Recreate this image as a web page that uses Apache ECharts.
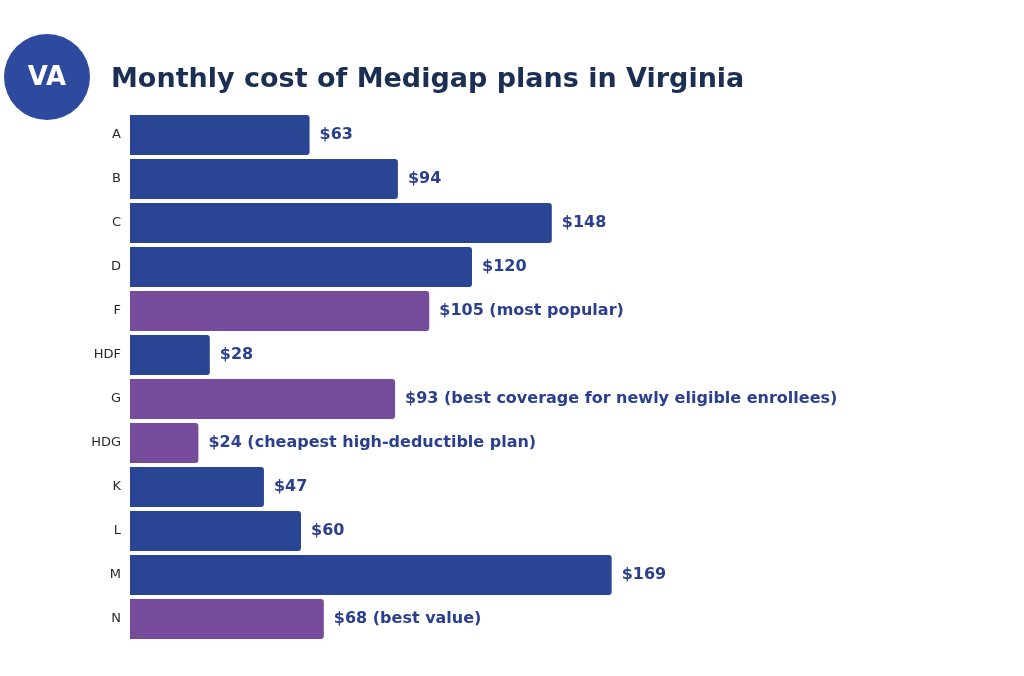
<!DOCTYPE html>
<html><head><meta charset="utf-8">
<script src="https://cdn.jsdelivr.net/npm/echarts@6/dist/echarts.min.js"></script>
<style>html,body{margin:0;padding:0;background:#fff}#c{width:1024px;height:676px}</style>
</head><body><div id="c"></div>
<script>
const categories = ['A','B','C','D','F','HDF','G','HDG','K','L','M','N'];
const costs = [63,94,148,120,105,28,93,24,47,60,169,68];
const notes = ['','','','','most popular','','best coverage for newly eligible enrollees','cheapest high-deductible plan','','','','best value'];
const highlighted = [false,false,false,false,true,false,true,true,false,false,false,true];
const BLUE = '#2B4595', PURPLE = '#764B9C';
const chart = echarts.init(document.getElementById('c'));
chart.setOption({
  backgroundColor:'#fff',
  animation:false,
  title:{text:'Monthly cost of Medigap plans in Virginia',left:106,top:61,
    textStyle:{fontFamily:'DejaVu Sans',fontWeight:700,fontSize:27,color:'#1B2F55'}},
  graphic:[
    {type:'circle',shape:{cx:47,cy:77,r:43},style:{fill:'#2D4A9E'}},
    {type:'text',x:47,y:78,style:{text:'VA',fill:'#fff',font:'700 26px "DejaVu Sans"',align:'center',verticalAlign:'middle'}}
  ],
  grid:{left:130,right:39,top:113,bottom:35},
  xAxis:{type:'value',min:0,max:300,show:false},
  yAxis:{type:'category',data:categories,inverse:true,
    axisLine:{show:false},axisTick:{show:false},
    axisLabel:{margin:9,fontFamily:'DejaVu Sans',fontSize:13,color:'#2a2a2a'}},
  series:[{type:'bar',barCategoryGap:'9%',
    data:costs.map((v,i)=>({value:v,itemStyle:{color:highlighted[i]?PURPLE:BLUE}})),
    itemStyle:{borderRadius:[0,3,3,0]},
    label:{show:true,position:'right',distance:10,fontFamily:'DejaVu Sans',fontWeight:700,fontSize:16,color:'#2B3F8F',
      formatter:p=>'$'+p.value+(notes[p.dataIndex]?' ('+notes[p.dataIndex]+')':'')}
  }]
});
</script></body></html>
